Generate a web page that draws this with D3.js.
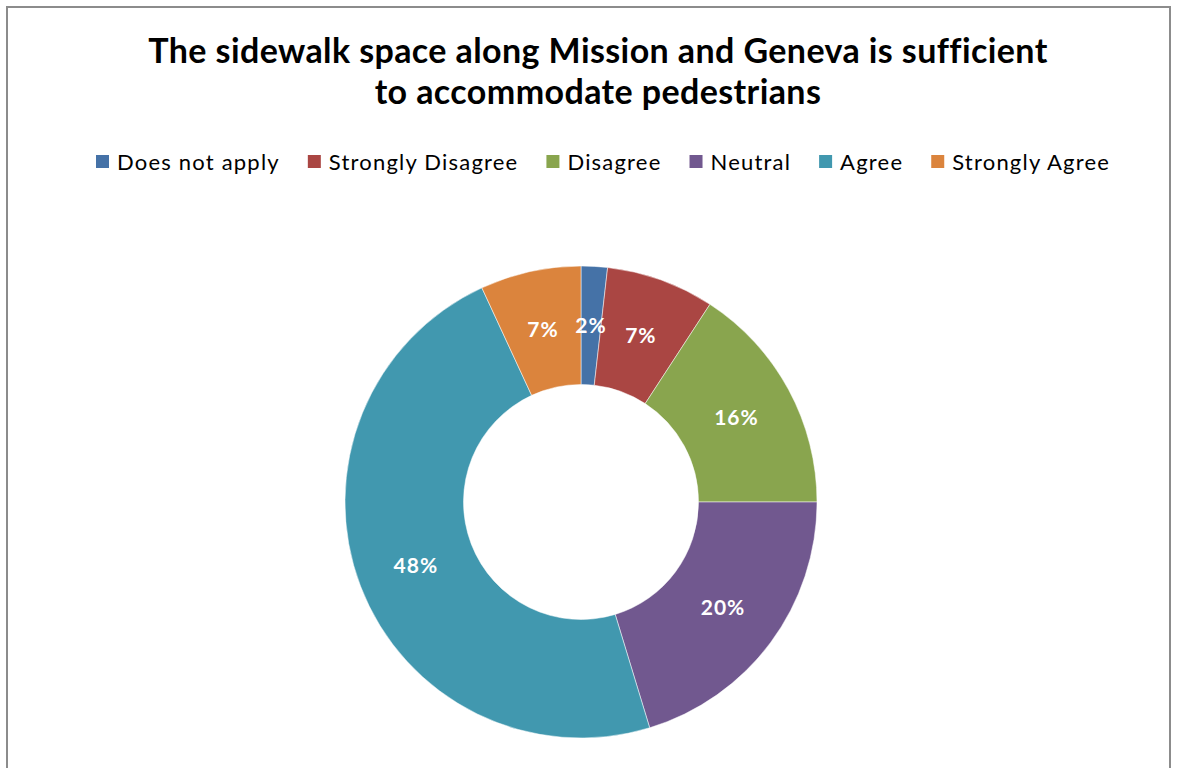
<!DOCTYPE html>
<html><head><meta charset="utf-8">
<script src="https://cdn.jsdelivr.net/npm/d3@7"></script>
<style>html,body{margin:0;padding:0;background:#fff;}svg{display:block;}</style>
</head><body>
<script>
const categories = ["Does not apply","Strongly Disagree","Disagree","Neutral","Agree","Strongly Agree"];
const values = [1.8, 7.4, 15.8, 20.3, 47.8, 6.9];
const colors = ["#4572A7","#AA4643","#89A54E","#71588F","#4198AF","#DB843D"];
const titleLines = ["The sidewalk space along Mission and Geneva is sufficient","to accommodate pedestrians"];

const W=1178,H=768;
const svg=d3.select("body").append("svg").attr("width",W).attr("height",H);
const font="Lato, Carlito, Calibri, 'Open Sans', sans-serif";

svg.append("rect").attr("x",7).attr("y",7).attr("width",1163).attr("height",800)
  .attr("fill","#fff").attr("stroke","#8c8c8c").attr("stroke-width",2);

svg.selectAll("text.title").data(titleLines).join("text").attr("class","title")
  .attr("x",598).attr("y",(d,i)=>63+i*41).attr("text-anchor","middle")
  .attr("font-family",font).attr("font-weight","bold").attr("font-size",34)
  .attr("letter-spacing",0.4).attr("fill","#000").text(d=>d);

// legend
const lg=svg.append("g");
const color=d3.scaleOrdinal().domain(categories).range(colors);
let x=96;
const items=lg.selectAll("g").data(categories).join("g");
items.each(function(d){
  const g=d3.select(this);
  g.append("rect").attr("x",x).attr("y",155).attr("width",13).attr("height",13).attr("fill",color(d));
  const t=g.append("text").attr("x",x+21).attr("y",169.5).attr("font-family",font).attr("font-size",22)
    .attr("letter-spacing",1.2).attr("fill","#000").text(d);
  x+=21+t.node().getComputedTextLength()+28;
});

const cx=581,cy=502,R=236,r=117.5;
const pie=d3.pie().sort(null).value(d=>d.v);
const data=pie(categories.map((c,i)=>({c,v:values[i]})));
const arc=d3.arc().innerRadius(r).outerRadius(R);
const g=svg.append("g").attr("transform",`translate(${cx},${cy})`);
g.selectAll("path").data(data).join("path").attr("d",arc).attr("fill",d=>color(d.data.c))
  .attr("stroke","#fff").attr("stroke-width",0.5);
g.selectAll("text").data(data).join("text")
  .attr("transform",d=>`translate(${arc.centroid(d)})`).attr("dy","0.36em")
  .attr("text-anchor","middle").attr("font-family",font).attr("font-weight","bold")
  .attr("font-size",21).attr("letter-spacing",1).attr("fill","#fff").text(d=>Math.round(d.data.v)+"%");
</script>
</body></html>
